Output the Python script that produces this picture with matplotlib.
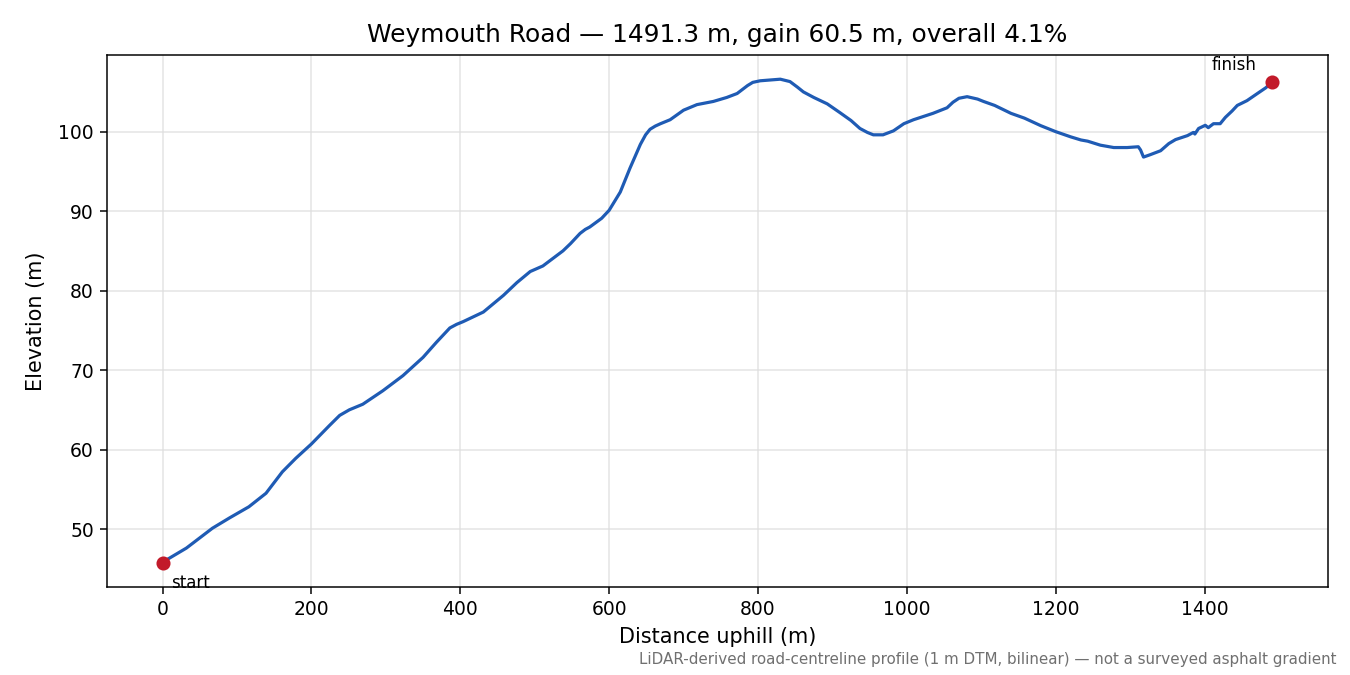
import matplotlib
matplotlib.use("Agg")
import matplotlib.pyplot as plt

distance_m = [0, 5, 32, 67, 90, 116, 139, 161, 179, 200, 224, 238, 251, 269, 296, 323,
              350, 368, 377, 386, 395, 404, 422, 431, 458, 476, 494, 511, 538, 548, 556,
              561, 568, 574, 590, 600, 615, 628, 642, 649, 655, 662, 669, 682, 700, 718,
              740, 758, 772, 786, 793, 803, 830, 843, 853, 861, 875, 893, 910, 925, 937,
              947, 955, 968, 982, 996, 1009, 1035, 1054, 1062, 1070, 1081, 1095, 1103,
              1118, 1140, 1158, 1180, 1200, 1220, 1234, 1243, 1260, 1278, 1296, 1311,
              1314, 1318, 1327, 1341, 1352, 1361, 1377, 1385, 1387, 1392, 1401, 1405,
              1412, 1421, 1428, 1437, 1444, 1457, 1471, 1482, 1491.3]
elevation_m = [45.75, 46.1, 47.6, 50.1, 51.4, 52.8, 54.5, 57.2, 58.9, 60.7, 63.0, 64.3,
               65.0, 65.7, 67.4, 69.3, 71.6, 73.5, 74.4, 75.3, 75.75, 76.1, 76.9, 77.3,
               79.4, 81.0, 82.4, 83.1, 85.0, 85.9, 86.7, 87.2, 87.7, 88.0, 89.1, 90.1,
               92.4, 95.4, 98.4, 99.6, 100.3, 100.7, 101.0, 101.5, 102.7, 103.4, 103.8,
               104.3, 104.8, 105.8, 106.2, 106.4, 106.6, 106.3, 105.6, 105.0, 104.3,
               103.5, 102.4, 101.4, 100.4, 99.9, 99.6, 99.6, 100.1, 101.0, 101.5, 102.3,
               103.0, 103.7, 104.2, 104.4, 104.1, 103.8, 103.3, 102.3, 101.7, 100.75,
               100.0, 99.35, 98.95, 98.8, 98.3, 98.0, 98.0, 98.1, 97.7, 96.8, 97.1, 97.6,
               98.5, 99.0, 99.5, 99.9, 99.7, 100.4, 100.8, 100.5, 101.0, 101.0, 101.8,
               102.6, 103.3, 103.9, 104.8, 105.5, 106.25]

title = "Weymouth Road \u2014 1491.3 m, gain 60.5 m, overall 4.1%"
footnote = "LiDAR-derived road-centreline profile (1 m DTM, bilinear) \u2014 not a surveyed asphalt gradient"

fig, ax = plt.subplots(figsize=(10, 5), dpi=135)
fig.subplots_adjust(left=0.0793, right=0.9837, top=0.9185, bottom=0.1304)

ax.plot(distance_m, elevation_m, color="#1f5bb4", linewidth=1.7, zorder=2,
        solid_joinstyle="round")
ax.plot([distance_m[0], distance_m[-1]], [elevation_m[0], elevation_m[-1]],
        "o", color="#c21a2a", markersize=6.5, zorder=3)

ax.annotate("start", (distance_m[0], elevation_m[0]), xytext=(4.5, -13.5),
            textcoords="offset points", fontsize=8.9)
ax.annotate("finish", (distance_m[-1], elevation_m[-1]), xytext=(-8.5, 6.5),
            textcoords="offset points", fontsize=8.9, ha="right")

ax.grid(True, color="#dddddd", linewidth=0.8, alpha=0.8)
ax.set_axisbelow(True)
ax.set_title(title, fontsize=13.3, pad=7)
ax.set_xlabel("Distance uphill (m)", fontsize=11.1, labelpad=4)
ax.set_ylabel("Elevation (m)", fontsize=11.1, labelpad=6.5)
ax.tick_params(labelsize=10)

fig.text(0.99, 0.012, footnote, ha="right", va="bottom", fontsize=8.05, color="#707070")

fig.savefig("out.png", dpi=135)
